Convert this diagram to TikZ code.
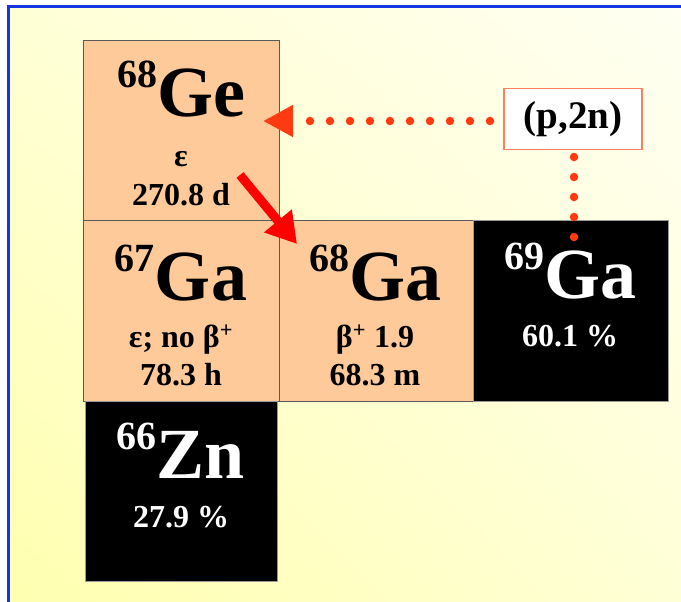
\documentclass[tikz,border=0pt]{standalone}
\usepackage{fontspec}
\setmainfont{Liberation Serif}
\usetikzlibrary{arrows.meta,shadings}
\definecolor{peach}{HTML}{FFCA99}
\definecolor{frameblue}{HTML}{1434E6}
\definecolor{dotred}{HTML}{FF3A10}
\definecolor{pnborder}{HTML}{FF7F5A}
\definecolor{bgtop}{HTML}{FFFFF2}
\definecolor{bgbot}{HTML}{FFFFB0}
\definecolor{bgmid}{HTML}{FFFFD6}
\tikzset{
  nucbox/.style={draw=black!65, line width=1.3pt, fill=peach, inner sep=0pt, anchor=north west},
  stablebox/.style={draw=black!40, line width=1pt, fill=black, inner sep=0pt, anchor=north west},
  symtxt/.style={anchor=base, inner sep=0pt, font=\bfseries},
  smalltxt/.style={anchor=base, inner sep=0pt, font=\bfseries\fontsize{32}{32}\selectfont},
  dotline/.style={dotred, line width=8.5pt, line cap=round, dash pattern=on 0pt off 20pt},
}
\newcommand{\nuc}[2]{\raisebox{29pt}{\fontsize{40}{40}\selectfont #1}\fontsize{72}{72}\selectfont #2}
\begin{document}
\begin{tikzpicture}[x=1pt,y=-1pt]
\useasboundingbox (0,0) rectangle (681,602);
\fill[white] (0,0) rectangle (681,602);
\shade[upper left=bgmid, upper right=bgtop, lower left=bgbot, lower right=bgmid] (9,7) rectangle (681,602);
\draw[frameblue, line width=3pt] (8.5,602) -- (8.5,7) -- (681,7);

% boxes
\node[nucbox, minimum width=196pt, minimum height=180pt] (ge68) at (83,40) {};
\node[nucbox, minimum width=196pt, minimum height=181pt] (ga67) at (83,220) {};
\node[nucbox, minimum width=194pt, minimum height=181pt] (ga68) at (279,220) {};
\node[stablebox, minimum width=195pt, minimum height=181pt] (ga69) at (473,220) {};
\node[stablebox, minimum width=192pt, minimum height=180pt] (zn66) at (85,401) {};

% texts
\node[symtxt] (ge68s) at (181,117) {\nuc{68}{Ge}};
\node[smalltxt] (ge68a) at (181,167) {ε};
\node[smalltxt] (ge68b) at (181,205) {270.8 d};

\node[symtxt] (ga67s) at (181,300) {\nuc{67}{Ga}};
\node[smalltxt] (ga67a) at (181,347) {ε; no β\textsuperscript{+}};
\node[smalltxt] (ga67b) at (181,385) {78.3 h};

\node[symtxt] (ga68s) at (375,300) {\nuc{68}{Ga}};
\node[smalltxt] (ga68a) at (375,347) {β\textsuperscript{+} 1.9};
\node[smalltxt] (ga68b) at (375,385) {68.3 m};

\node[symtxt, text=white] (ga69s) at (570,298) {\nuc{69}{Ga}};
\node[smalltxt, text=white] (ga69a) at (570,346) {60.1 \%};

\node[symtxt, text=white] (zn66s) at (181,478) {\nuc{66}{Zn}};
\node[smalltxt, text=white] (zn66a) at (181,527) {27.9 \%};

% (p,2n) box
\node[draw=pnborder, line width=1.3pt, fill=white, minimum width=138pt, minimum height=61pt, inner sep=0pt,
      font=\bfseries\fontsize{39}{39}\selectfont] (pn) at (573,119) {(p,2n)};

% connectors
\coordinate (hstart) at (490,121);
\coordinate (getip) at (263,121);
\coordinate (vstart) at (574,157);
\coordinate (vend) at (574,237.5);
\coordinate (decstart) at (240,175);
\coordinate (dectip) at (297,244);

\draw[dotline, -{Triangle[length=30pt, width=30pt, line cap=butt]}] (hstart) -- (getip);
\draw[dotline] (vstart) -- (vend);
\draw[red, line width=9pt, -{Triangle[length=30pt, width=34pt]}] (decstart) -- (dectip);
\end{tikzpicture}
\end{document}
